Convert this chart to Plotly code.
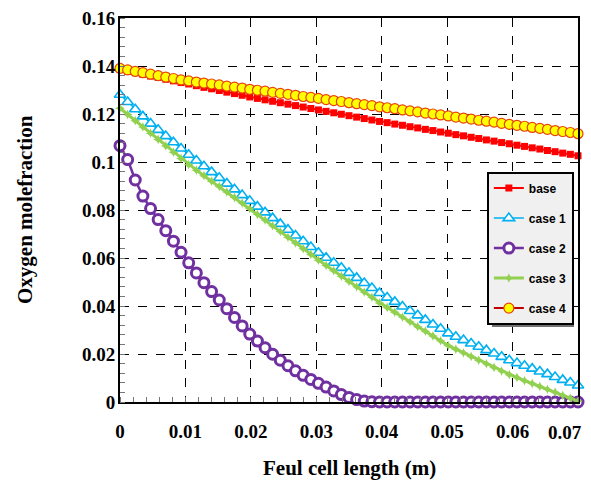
import plotly.graph_objects as go

x_m = [0.0, 0.00117, 0.00233, 0.0035, 0.00467, 0.00583, 0.007, 0.00817, 0.00933, 0.0105,
       0.01167, 0.01283, 0.014, 0.01517, 0.01633, 0.0175, 0.01867, 0.01983, 0.021, 0.02217,
       0.02333, 0.0245, 0.02567, 0.02683, 0.028, 0.02917, 0.03033, 0.0315, 0.03267, 0.03383,
       0.035, 0.03617, 0.03733, 0.0385, 0.03967, 0.04083, 0.042, 0.04317, 0.04433, 0.0455,
       0.04667, 0.04783, 0.049, 0.05017, 0.05133, 0.0525, 0.05367, 0.05483, 0.056, 0.05717,
       0.05833, 0.0595, 0.06067, 0.06183, 0.063, 0.06417, 0.06533, 0.0665, 0.06767, 0.06883, 0.07]

base = [0.1385, 0.1378, 0.1372, 0.1365, 0.1358, 0.1352, 0.1345, 0.1338, 0.1331, 0.1325,
        0.1318, 0.1311, 0.1305, 0.1298, 0.1291, 0.1285, 0.1278, 0.1271, 0.1265, 0.1259,
        0.1253, 0.1247, 0.1241, 0.1235, 0.1229, 0.1223, 0.1217, 0.1211, 0.1205, 0.1199,
        0.1193, 0.1187, 0.1181, 0.1175, 0.1169, 0.1164, 0.1158, 0.1153, 0.1147, 0.1142,
        0.1136, 0.1131, 0.1125, 0.1120, 0.1114, 0.1109, 0.1103, 0.1098, 0.1092, 0.1087,
        0.1081, 0.1076, 0.1070, 0.1065, 0.1059, 0.1054, 0.1048, 0.1043, 0.1037, 0.1032, 0.1026]

case1 = [0.1280, 0.1250, 0.1220, 0.1190, 0.1160, 0.1134, 0.1108, 0.1082, 0.1056, 0.1030,
         0.1006, 0.0982, 0.0958, 0.0934, 0.0910, 0.0886, 0.0862, 0.0838, 0.0814, 0.0790,
         0.0766, 0.0742, 0.0718, 0.0694, 0.0670, 0.0646, 0.0622, 0.0601, 0.0580, 0.0559,
         0.0538, 0.0517, 0.0496, 0.0475, 0.0454, 0.0435, 0.0417, 0.0398, 0.0379, 0.0361,
         0.0342, 0.0323, 0.0305, 0.0286, 0.0272, 0.0258, 0.0244, 0.0230, 0.0216, 0.0202,
         0.0188, 0.0174, 0.0162, 0.0151, 0.0139, 0.0127, 0.0116, 0.0104, 0.0092, 0.0081, 0.0069]

case2 = [0.1068, 0.1010, 0.0925, 0.0858, 0.0806, 0.0760, 0.0714, 0.0670, 0.0624, 0.0580,
         0.0538, 0.0497, 0.0460, 0.0425, 0.0389, 0.0352, 0.0317, 0.0283, 0.0254, 0.0226,
         0.0199, 0.0174, 0.0151, 0.0130, 0.0111, 0.0094, 0.0078, 0.0062, 0.0046, 0.0031,
         0.0019, 0.0010, 0.0004, 0.0001, 0.0, 0.0, 0.0, 0.0, 0.0, 0.0,
         0.0, 0.0, 0.0, 0.0, 0.0, 0.0, 0.0, 0.0, 0.0, 0.0,
         0.0, 0.0, 0.0, 0.0, 0.0, 0.0, 0.0, 0.0, 0.0, 0.0, 0.0]

case3 = [0.1224, 0.1198, 0.1172, 0.1146, 0.1120, 0.1094, 0.1067, 0.1041, 0.1015, 0.0989,
         0.0966, 0.0943, 0.0920, 0.0898, 0.0875, 0.0852, 0.0829, 0.0806, 0.0782, 0.0758,
         0.0734, 0.0710, 0.0686, 0.0663, 0.0639, 0.0615, 0.0591, 0.0569, 0.0547, 0.0524,
         0.0502, 0.0480, 0.0458, 0.0436, 0.0413, 0.0394, 0.0374, 0.0354, 0.0334, 0.0314,
         0.0295, 0.0275, 0.0255, 0.0235, 0.0220, 0.0205, 0.0190, 0.0174, 0.0159, 0.0144,
         0.0129, 0.0114, 0.0102, 0.0089, 0.0077, 0.0065, 0.0053, 0.0041, 0.0028, 0.0016, 0.0004]

case4 = [0.1390, 0.1384, 0.1378, 0.1372, 0.1366, 0.1360, 0.1354, 0.1348, 0.1342, 0.1338,
         0.1333, 0.1329, 0.1325, 0.1321, 0.1316, 0.1312, 0.1308, 0.1303, 0.1299, 0.1295,
         0.1290, 0.1286, 0.1282, 0.1278, 0.1273, 0.1269, 0.1265, 0.1260, 0.1256, 0.1252,
         0.1247, 0.1243, 0.1239, 0.1235, 0.1230, 0.1226, 0.1222, 0.1217, 0.1213, 0.1209,
         0.1204, 0.1200, 0.1196, 0.1192, 0.1187, 0.1183, 0.1179, 0.1174, 0.1170, 0.1166,
         0.1161, 0.1157, 0.1153, 0.1149, 0.1144, 0.1140, 0.1136, 0.1131, 0.1127, 0.1123, 0.1118]

x_ticks = [0, 0.01, 0.02, 0.03, 0.04, 0.05, 0.06]
x_tick_text = ["0", "0.01", "0.02", "0.03", "0.04", "0.05", "0.06"]
x_last_tick = 0.07
x_last_text = "0.07"
y_ticks = [0, 0.02, 0.04, 0.06, 0.08, 0.1, 0.12, 0.14, 0.16]
y_tick_text = ["0", "0.02", "0.04", "0.06", "0.08", "0.1", "0.12", "0.14", "0.16"]

serif = "Liberation Serif, Times New Roman, serif"
narrow = "Liberation Sans Narrow, Arial Narrow, Liberation Sans, sans-serif"

fig = go.Figure()
fig.add_trace(go.Scatter(x=x_m, y=base, name="base", mode="lines+markers", legendgroup="a",
                         line=dict(color="#ff0000", width=2),
                         marker=dict(symbol="square", size=7, color="#ff0000"), cliponaxis=False))
fig.add_trace(go.Scatter(x=x_m, y=case1, name="case 1", mode="lines+markers", legendgroup="b",
                         line=dict(color="#00b0f0", width=1.5),
                         marker=dict(symbol="triangle-up", size=10, color="#ffffff",
                                     line=dict(color="#00b0f0", width=1.6)), cliponaxis=False))
fig.add_trace(go.Scatter(x=x_m, y=case2, name="case 2", mode="lines+markers", legendgroup="c",
                         line=dict(color="#7030a0", width=2.5),
                         marker=dict(symbol="circle", size=10, color="#ffffff",
                                     line=dict(color="#7030a0", width=3)), cliponaxis=False))
fig.add_trace(go.Scatter(x=x_m, y=case3, name="case 3", mode="lines+markers", legendgroup="d",
                         line=dict(color="#92d050", width=3),
                         marker=dict(symbol="star-diamond", size=7, color="#92d050"), cliponaxis=False))
fig.add_trace(go.Scatter(x=x_m, y=case4, name="case 4", mode="lines+markers", legendgroup="e",
                         line=dict(color="#c00000", width=2),
                         marker=dict(symbol="circle", size=10, color="#ffff00",
                                     line=dict(color="#e8400a", width=1.2)), cliponaxis=False))

tick_font = dict(family=serif, size=19, color="#000000", weight="bold")
axis_common = dict(showgrid=True, gridcolor="#000000", griddash="dash", gridwidth=1,
                   showline=True, linecolor="#000000", linewidth=2, mirror=True,
                   ticks="", zeroline=False, automargin=False, tickfont=tick_font)

fig.update_xaxes(range=[0, 0.07000001], tickvals=x_ticks, ticktext=x_tick_text,
                 ticklabelstandoff=11,
                 minor=dict(dtick=0.002, ticks="inside", ticklen=5, tickcolor="#777777", showgrid=False),
                 **axis_common)
fig.update_yaxes(range=[0, 0.16000001], tickvals=y_ticks, ticktext=y_tick_text,
                 ticklabelstandoff=-1,
                 minor=dict(dtick=0.004, ticks="inside", ticklen=5, tickcolor="#777777", showgrid=False),
                 **axis_common)

title_font = dict(family=serif, size=21, color="#000000", weight="bold")

fig.update_layout(
    width=591, height=484,
    margin=dict(l=120, r=13, t=18, b=82),
    paper_bgcolor="#ffffff", plot_bgcolor="#ffffff",
    showlegend=True,
    legend=dict(x=0.801, y=0.6, xanchor="left", yanchor="top",
                bgcolor="#f0f0f0", bordercolor="#000000", borderwidth=2,
                tracegroupgap=11, itemwidth=30,
                font=dict(family=narrow, size=12, color="#000000", weight="bold")),
    shapes=[dict(type="rect", xref="paper", yref="paper", layer="above",
                 x0=0.8122, x1=0.9913, y0=0.1953, y1=0.5885,
                 fillcolor="#707070", line=dict(width=0))],
    annotations=[
        dict(text=x_last_text, xref="x", yref="paper", x=x_last_tick, y=0,
             xanchor="right", yanchor="middle", xshift=6, yshift=-30,
             showarrow=False, font=tick_font),
        dict(text="Feul cell length (m)", xref="paper", yref="paper", x=0.5, y=0,
             yshift=-66, xanchor="center", yanchor="middle", showarrow=False, font=title_font),
        dict(text="Oxygen molefraction", xref="paper", yref="paper", x=0, y=0.5,
             xshift=-95, xanchor="center", yanchor="middle", textangle=-90,
             showarrow=False, font=title_font),
    ],
)

fig.write_html("out.html", config={"displayModeBar": False},
               post_script="document.body.style.margin='0';document.body.style.overflow='hidden';")
